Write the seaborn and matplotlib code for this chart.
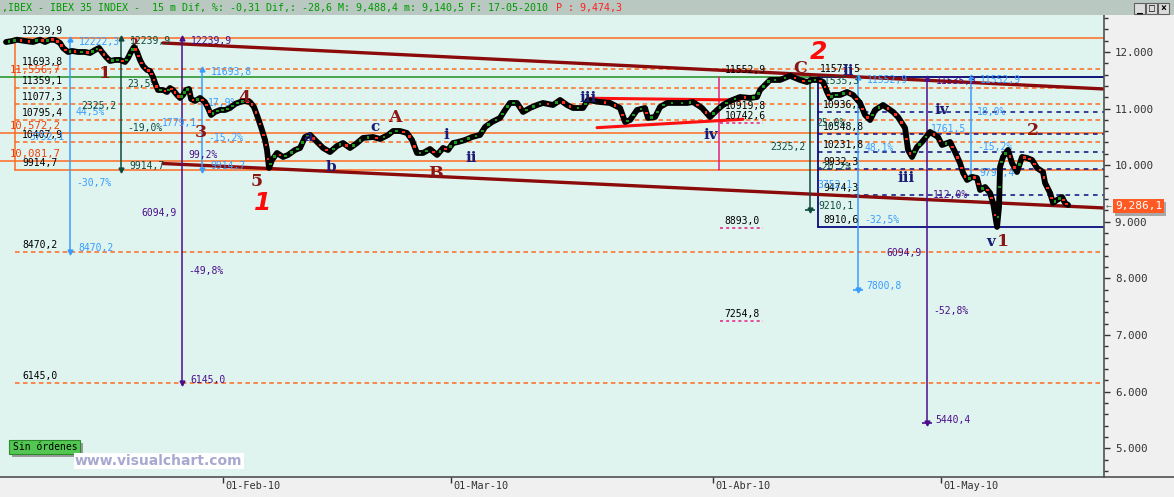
import matplotlib
matplotlib.use("Agg")
import matplotlib.pyplot as plt
import seaborn as sns
import numpy as np
import pandas as pd
from matplotlib.patches import Rectangle
from matplotlib.lines import Line2D
from matplotlib.ticker import MultipleLocator, FixedLocator, FuncFormatter
from matplotlib.transforms import ScaledTranslation

# ---------------- data ----------------
# x = trading-session index (session 0 = 4 Jan 2010), y = IBEX 35 points
session = [1.01, 1.54, 1.97, 2.68, 3.38, 3.99, 4.43, 4.87, 5.31, 5.75, 6.01, 6.45, 6.80, 7.32, 7.94,
           8.38, 8.82, 9.17, 9.43, 9.78, 10.13, 10.57, 11.01, 11.45, 11.71, 11.97, 12.24, 12.50, 12.76,
           13.03, 13.38, 13.64, 13.90, 14.08, 14.34, 14.78, 15.13, 15.39, 15.66, 16.01, 16.27, 16.54,
           16.80, 17.06, 17.24, 17.59, 18.03, 18.46, 18.73, 18.99, 19.34, 19.78, 20.22, 20.66, 21.10,
           21.54, 21.97, 22.41, 22.76, 23.11, 23.46, 23.73, 23.90, 24.08, 24.34, 24.78, 25.31, 25.75,
           26.36, 26.80, 27.24, 27.68, 28.29, 28.82, 29.43, 30.04, 30.57, 31.18, 31.80, 32.32, 33.20,
           33.82, 34.52, 34.96, 35.57, 36.18, 36.62, 37.06, 37.59, 38.20, 38.82, 39.34, 39.78, 40.22,
           40.66, 41.27, 41.89, 42.59, 43.03, 43.64, 44.34, 44.78, 45.22, 45.83, 46.36, 46.97, 47.59,
           48.11, 48.99, 49.61, 50.22, 50.75, 51.62, 52.06, 53.11, 53.99, 54.87, 55.31, 55.75, 56.36,
           57.06, 57.32, 57.94, 58.38, 58.99, 59.87, 60.75, 61.27, 62.06, 62.76, 63.38, 63.90, 64.52,
           65.39, 66.27, 66.89, 67.15, 67.76, 68.03, 68.90, 69.78, 70.66, 71.27, 71.71, 72.24, 72.68,
           73.03, 73.29, 73.55, 74.17, 74.78, 75.31, 75.92, 76.36, 76.80, 77.24, 77.94, 78.82, 79.25,
           79.87, 80.13, 80.48, 80.92, 81.36, 82.06, 82.76, 83.11, 83.82, 84.25, 84.69, 84.96, 85.31,
           85.75, 86.18, 86.45, 86.89, 87.32, 87.59, 87.94, 88.11, 88.20, 88.46, 88.90, 89.25, 89.69,
           90.13, 90.57, 91.01, 91.45, 91.97, 92.15, 92.59, 92.85, 93.20, 93.64, 93.90, 94.17]
price = [12174, 12192, 12215, 12192, 12174, 12215, 12174, 12215, 12210, 12157, 12069, 11998, 12016,
         11998, 11998, 11980, 12033, 12069, 11998, 11910, 11839, 11857, 11857, 11822, 11892, 11998,
         12086, 11998, 11857, 11751, 11680, 11663, 11557, 11451, 11327, 11327, 11292, 11362, 11327,
         11239, 11186, 11239, 11327, 11345, 11168, 11133, 11186, 11115, 11009, 10886, 10939, 10974,
         10974, 11009, 11080, 11115, 11133, 11115, 11027, 10833, 10621, 10444, 10268, 9950, 10091,
         10215, 10144, 10180, 10268, 10303, 10497, 10533, 10409, 10303, 10232, 10338, 10391, 10303,
         10391, 10480, 10497, 10462, 10533, 10603, 10603, 10568, 10444, 10215, 10215, 10285, 10180,
         10303, 10268, 10391, 10409, 10444, 10497, 10533, 10674, 10762, 10833, 10974, 11098, 11098,
         10939, 11009, 11062, 11098, 11062, 11150, 11062, 11009, 11009, 11150, 11115, 11098, 11009,
         10762, 10797, 10974, 11009, 10833, 10850, 11027, 11098, 11098, 11098, 11115, 11009, 10850,
         10974, 11062, 11133, 11203, 11186, 11203, 11327, 11451, 11504, 11504, 11577, 11504, 11468,
         11504, 11504, 11468, 11292, 11186, 11239, 11239, 11292, 11239, 11098, 10886, 10797, 10974,
         11062, 10939, 10850, 10656, 10268, 10144, 10321, 10409, 10586, 10497, 10356, 10409, 10232,
         10038, 9862, 9738, 9791, 9774, 9562, 9614, 9509, 9332, 8910, 9261, 9968, 10144, 10268,
         10038, 9879, 10144, 10127, 10091, 9950, 9879, 9685, 9509, 9332, 9385, 9438, 9332, 9297]

last_price = 9286.1
header_last, header_high, header_low, header_p = -28.6, 9488.4, 9140.5, 9474.3
header_pct, header_date = -0.31, "17-05-2010"

fib_levels = [12239.9, 11693.8, 11359.1, 11077.3, 10795.4, 10407.9, 9914.7]
ext_levels = [8470.2, 6145.0]
alt_levels = [11556.7, 10572.2, 10081.7]

navy_top, navy_bottom = 11552.9, 8910.6
navy_levels = [10936.5, 10548.8, 10231.8, 9932.3, 9474.3]
wave2_high = 11577.5

pink_levels = [11552.9, 10919.8, 10742.6, 8893.0, 7254.8]
pink_underlined = [10742.6, 8893.0, 7254.8]

upper_trend_x, upper_trend_y = [14.78, 97.32], [12157, 11345]
lower_trend_x, lower_trend_y = [14.78, 97.32], [10029, 9244]
wedge_upper_x, wedge_upper_y = [52.24, 65.39], [11181, 11150]
wedge_lower_x, wedge_lower_y = [52.85, 65.66], [10662, 10810]

measure_x = [6.62, 11.10, 16.45, 18.20, 71.54, 75.75, 81.80, 85.66]
measure_top = [12222.3, 12239.9, 12239.9, 11693.8, 11535.3, 11552.9, 11535.3, 11552.9]
measure_bottom = [8470.2, 9914.7, 6145.0, 9914.7, 9210.1, 7800.8, 5440.4, 9791.4]
measure_up_pct = ["44,5%", "23,5%", "99,2%", "17,9%", "25,0%", "48,1%", "112,0%", "18,0%"]
measure_up_y = [10939, 11433, 10180, 11089, 10750, 10303, 9473, 10944]
measure_range_y = [10497, 11045, 9156, 10744, 10326, 9650, 8455, 10639]
measure_dn_y = [9685, 10656, 8132, 10471, 9968, 9032, 7425, 10326]
measure_kind = ["blue", "teal", "purple", "blue", "teal", "blue", "purple", "blue"]

maroon_text = ["1", "2", "3", "4", "5", "A", "B", "C", "2", "1"]
maroon_x = [9.69, 12.15, 18.11, 21.89, 23.03, 35.13, 38.64, 70.66, 91.10, 88.46]
maroon_y = [11610, 12122, 10568, 11203, 9720, 10850, 9844, 11715, 10603, 8644]
navy_text = ["a", "b", "c", "i", "ii", "iii", "iv", "ii", "iii", "iv", "v"]
navy_x = [27.50, 29.52, 33.38, 39.60, 41.80, 52.06, 62.85, 74.87, 79.95, 83.09, 87.41]
navy_y = [10497, 9968, 10674, 10533, 10127, 11186, 10533, 11663, 9773, 10974, 8644]
red_text = ["2", "1"]
red_x = [72.24, 23.55]
red_y = [11998, 9332]

date_ticks = [20, 40, 63, 83]
date_labels = ["01-Feb-10", "01-Mar-10", "01-Abr-10", "01-May-10"]
y_ticks = [5000, 6000, 7000, 8000, 9000, 10000, 11000, 12000]

# ---------------- style ----------------
sns.set_theme(style="white")
plt.rcParams['font.family'] = ['DejaVu Sans Mono', 'DejaVu Sans']
plt.rcParams['axes.unicode_minus'] = False

C_OR = '#ff6a22'
C_GREEN = '#1f8f1f'
C_MAROON = '#8b0a0a'
C_NAVY = '#0c0c80'
C_BLUE = '#3a9cff'
C_TEAL = '#0f4a40'
C_PURPLE = '#4a0e8c'
C_PINK = '#e4207e'
KIND_COL = {"blue": C_BLUE, "teal": C_TEAL, "purple": C_PURPLE}

W, H = 1174, 497
fig = plt.figure(figsize=(W / 100, H / 100), dpi=100, facecolor='#f0f0f0')
ax = fig.add_axes([0, 20 / H, 1104 / W, 462 / H])
ax.set_facecolor('#dff4ef')
X0, X1 = 0.48, 97.32
ax.set_xlim(X0, X1)
ax.set_ylim(4494, 12651)
PX = 0.72  # points per pixel


def fmt(v):
    return f"{v:.1f}".replace('.', ',')


def fmt_k(v):
    return f"{v:,.1f}".replace('.', ',')


def put(x, y, s, color, dx=0, dy=0, ha='left', size=7.0, z=3, **kw):
    ax.annotate(s, (x, y), xytext=(dx * PX, dy * PX), textcoords='offset points',
                ha=ha, va='center', color=color, fontsize=size, zorder=z,
                annotation_clip=False, **kw)


XBOX = 1.80
# Fibonacci levels (box)
for i, lv in enumerate(fib_levels):
    solid = i in (0, len(fib_levels) - 1)
    ax.plot([XBOX, X1], [lv, lv], color=C_OR, lw=1.1,
            ls='-' if solid else (0, (3, 2.2)), zorder=1)
    put(2.41, lv, fmt(lv), 'black', dy=7)
ax.plot([XBOX, XBOX], [fib_levels[0], fib_levels[-1]], color=C_OR, lw=1.1, zorder=1)
for lv in ext_levels:
    ax.plot([XBOX, X1], [lv, lv], color=C_OR, lw=1.1, ls=(0, (3, 2.2)), zorder=1)
    put(2.41, lv, fmt(lv), 'black', dy=7)
for i, lv in enumerate(alt_levels):
    ax.plot([X0, X1], [lv, lv], color=C_GREEN if i == 0 else C_OR, lw=1.1, zorder=1)
    put(1.36, lv, fmt_k(lv), '#f0400a', dy=7, size=7.6)

# navy box with retracements
XN = 72.24
ax.plot([XN, XN, X1], [navy_bottom, navy_top, navy_top], color=C_NAVY, lw=1.3, zorder=2)
ax.plot([XN, X1], [navy_bottom, navy_bottom], color=C_NAVY, lw=1.3, zorder=2)
for lv in navy_levels:
    ax.plot([XN, X1], [lv, lv], color=C_NAVY, lw=1.1, ls=(0, (3, 3)), zorder=2)
    put(72.68, lv, fmt(lv), 'black', dy=7)
put(72.68, navy_bottom, fmt(navy_bottom), 'black', dy=7)
put(72.41, wave2_high, fmt(wave2_high), 'black', dy=7)

# pink marker lines
XP = 63.55
ax.plot([XP, XP], [alt_levels[0], fib_levels[-1]], color=C_PINK, lw=1.1, zorder=2)
for lv in pink_levels:
    put(64.05, lv, fmt(lv), 'black', dy=7)
for lv in pink_underlined:
    ax.plot([63.64, 67.41], [lv, lv], color=C_PINK, lw=1.1, ls=(0, (2, 2)), zorder=2)

# trend lines
ax.plot(upper_trend_x, upper_trend_y, color=C_MAROON, lw=2.4, zorder=2)
ax.plot(lower_trend_x, lower_trend_y, color=C_MAROON, lw=2.4, zorder=2)
ax.plot(wedge_upper_x, wedge_upper_y, color='#ff1010', lw=2.2, zorder=2)
ax.plot(wedge_lower_x, wedge_lower_y, color='#ff1010', lw=2.2, zorder=2)

# vertical measurement lines
for i in range(len(measure_x)):
    x, t, b = measure_x[i], measure_top[i], measure_bottom[i]
    col = KIND_COL[measure_kind[i]]
    ax.plot([x, x], [t, b], color=col, lw=1.1, zorder=2)
    ax.plot([x], [t], marker='^', ms=3.5, color=col, zorder=2)
    ax.plot([x], [b], marker='v', ms=3.5, color=col, zorder=2)
    if i >= 4:
        ax.plot([x], [b], marker='_', ms=7, mew=1.2, color=col, zorder=2)
    rng = t - b
    put(x, t, fmt(t), col, dx=9, dy=-3)
    put(x, measure_up_y[i], measure_up_pct[i], col, dx=6)
    put(x, measure_range_y[i], fmt(rng), col, dx=-5, ha='right')
    put(x, measure_dn_y[i], f"-{100 * rng / t:.1f}%".replace('.', ','), col, dx=6)
    put(x, b, fmt(b), col, dx=8, dy=3.5)

# price series
df = pd.DataFrame({'session': session, 'price': price})
sns.lineplot(data=df, x='session', y='price', ax=ax, color='black', lw=4.2,
             estimator=None, sort=False, zorder=4)
seg = pd.DataFrame({'session': (df['session'] + df['session'].shift()) / 2,
                    'price': (df['price'] + df['price'].shift()) / 2,
                    'dir': np.where(df['price'].diff() < 0, 'down', 'up')}).iloc[1:]
sns.scatterplot(data=seg, x='session', y='price', hue='dir', ax=ax, marker='s', s=4,
                linewidth=0, palette={'down': '#ff2a1a', 'up': '#1a9a1a'}, legend=False, zorder=5)
ax.set_xlabel('')
ax.set_ylabel('')

# wave labels
for s, x, y in zip(maroon_text, maroon_x, maroon_y):
    small = (s == "2" and x < 20)
    put(x, y, s, '#8b1616', ha='center', size=9 if small else 12.5,
        family='DejaVu Serif', weight='bold', z=3 if small else 6)
for s, x, y in zip(navy_text, navy_x, navy_y):
    put(x, y, s, '#1c1c78', ha='center', size=11, family='DejaVu Serif', weight='bold', z=6)
for s, x, y in zip(red_text, red_x, red_y):
    put(x, y, s, '#ff0a0a', ha='center', size=18, family='DejaVu Sans',
        weight='bold', style='italic', z=6)

# axes styling
for sp in ['top', 'left', 'bottom']:
    ax.spines[sp].set_visible(False)
ax.spines['right'].set_color('#505050')
ax.spines['right'].set_linewidth(1.2)
ax.yaxis.tick_right()
ax.yaxis.set_major_locator(FixedLocator(y_ticks))
ax.yaxis.set_minor_locator(MultipleLocator(200))
ax.yaxis.set_major_formatter(FuncFormatter(lambda v, p: f"{v / 1000:.3f}"))
ax.tick_params(axis='y', which='major', length=4.2, width=1, pad=3.6, colors='#333333',
               labelsize=7.8, right=True, left=False)
ax.tick_params(axis='y', which='minor', length=2.8, width=1, colors='#333333', right=True, left=False)
ax.set_xticks(date_ticks)
ax.set_xticklabels(date_labels)
ax.tick_params(axis='x', which='major', length=4.5, width=1, pad=-1.8, colors='#333333',
               labelsize=7.4, bottom=True)
for lab in ax.get_xticklabels():
    lab.set_ha('left')
    lab.set_transform(lab.get_transform() + ScaledTranslation(3 / 100, 0, fig.dpi_scale_trans))
ax.grid(False)

# last price tag
ax.annotate(fmt_k(last_price), xy=(1, last_price), xycoords=('axes fraction', 'data'),
            xytext=(13 * PX, -3 * PX), textcoords='offset points', ha='left', va='center',
            color='#a0a0a0', fontsize=8, annotation_clip=False, zorder=7,
            bbox=dict(boxstyle='square,pad=0.18', fc='#a8a8a8', ec='none'))
ax.annotate(fmt_k(last_price), xy=(1, last_price), xycoords=('axes fraction', 'data'),
            xytext=(11 * PX, 0), textcoords='offset points', ha='left', va='center',
            color='white', fontsize=8, annotation_clip=False, zorder=8,
            bbox=dict(boxstyle='square,pad=0.18', fc='#ff5a24', ec='none'))
ax.annotate("←", xy=(1, last_price), xycoords=('axes fraction', 'data'),
            xytext=(1.5 * PX, 0), textcoords='offset points', ha='left', va='center',
            color='#707070', fontsize=7, annotation_clip=False, zorder=8)


# frame pieces drawn in figure pixels
def fx(px):
    return px / W


def fy(py):
    return 1 - py / H


fig.add_artist(Line2D([0, 1], [fy(477), fy(477)], transform=fig.transFigure,
                      color='#505050', lw=1.2))
fig.add_artist(Rectangle((0, fy(15)), 1, 15 / H, transform=fig.transFigure,
                         fc='#b9c8c1', ec='none'))
head_green = (f",IBEX - IBEX 35 INDEX -  15 m Dif, %: {header_pct:.2f} Dif,: {header_last:.1f} "
              .replace('.', ',') + f"M: {fmt_k(header_high)} m: {fmt_k(header_low)} F: {header_date} ")
fig.text(fx(2), fy(7.5), head_green, color='#009a00', fontsize=7.2, ha='left', va='center')
fig.text(fx(2 + len(head_green) * 6.02), fy(7.5), f"P : {fmt_k(header_p)}", color='#ff2020',
         fontsize=7.2, ha='left', va='center')
for k, g in enumerate(["_", "□", "×"]):
    x0 = 1134 + 12 * k
    fig.add_artist(Rectangle((fx(x0), fy(14)), 11 / W, 11 / H, transform=fig.transFigure,
                             fc='#dcdcdc', ec='#606060', lw=0.8))
    fig.text(fx(x0 + 5.5), fy(8.5), g, color='black', fontsize=7, ha='center', va='center',
             weight='bold')

# "Sin órdenes" button and watermark
fig.add_artist(Rectangle((fx(12), fy(457)), 71 / W, 14 / H, transform=fig.transFigure,
                         fc='#9a9a9a', ec='none', zorder=9))
fig.add_artist(Rectangle((fx(9), fy(454)), 71 / W, 14 / H, transform=fig.transFigure,
                         fc='#52c852', ec='#2c8a2c', lw=0.8, zorder=10))
fig.text(fx(13), fy(447), "Sin órdenes", color='black', fontsize=7, ha='left', va='center', zorder=11)
fig.text(fx(75), fy(461), "www.visualchart.com", color='#a8a8d0', fontsize=10, ha='left',
         va='center', family='DejaVu Sans', weight='bold', zorder=11,
         bbox=dict(boxstyle='square,pad=0.1', fc='white', ec='none'))

fig.savefig("out.png", dpi=100, facecolor=fig.get_facecolor())
